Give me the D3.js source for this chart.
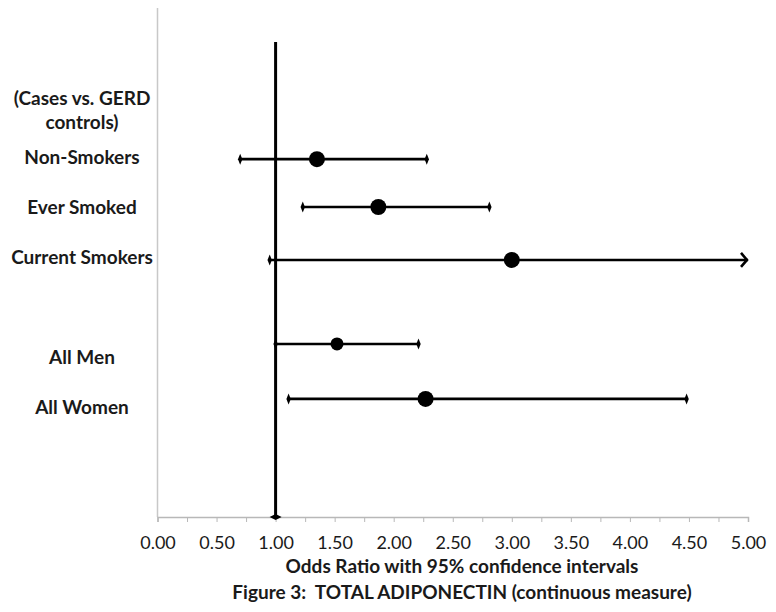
<!DOCTYPE html>
<html>
<head>
<meta charset="utf-8">
<script src="https://cdn.jsdelivr.net/npm/d3@7"></script>
<style>
  body { margin: 0; background: #fff; }
  text { font-family: Lato, "Open Sans", sans-serif; fill: #1a1a1a; white-space: pre; }
</style>
</head>
<body>
<div class="board"></div>
<script>
// groups, odds ratios and 95% CI
const groups = ["Non-Smokers", "Ever Smoked", "Current Smokers", "All Men", "All Women"]
const oddsRatio = [1.35, 1.87, 3.00, 1.52, 2.27]
const ciLow = [0.70, 1.23, 0.95, 1.00, 1.11]
const ciHigh = [2.28, 2.81, 5.00, 2.21, 4.48]
const rowY = [7.03, 6.09, 5.05, 3.40, 2.32]      // y position of each estimate
const labelY = [7.07, 6.09, 5.11, 3.14, 2.16]    // y position of each label
const pointR = [8, 8, 8, 6.5, 8]

const headerLines = ["(Cases vs. GERD", "controls)"]
const headerY = [8.23, 7.76]

const refLine = [{ x: 1, y: 0 }, { x: 1, y: 9.33 }]
const xMinorTicks = d3.range(0, 5.01, 0.25)

const width = 776, height = 612

const svg = d3.select(".board")
    .append("svg")
    .attr("width", width)
    .attr("height", height)

svg.append("rect").attr("width", width).attr("height", height).attr("fill", "white")

const x = d3.scaleLinear().domain([0, 5]).range([157.5, 748])
const y = d3.scaleLinear().domain([0, 10]).range([517, 8])

// left border of the plot area
svg.append("line")
    .attr("x1", x(0)).attr("x2", x(0))
    .attr("y1", y(10)).attr("y2", y(0))
    .attr("stroke", "#c8c8c8")
    .attr("stroke-width", 1.5)

// x axis
let xAxis = svg.append("g")
    .attr("transform", `translate(0, ${y(0)})`)
    .call(d3.axisBottom(x)
        .tickValues(xMinorTicks)
        .tickSize(5)
        .tickFormat(d => (Math.round(d * 100) % 50 == 0) ? d.toFixed(2) : ""))

xAxis.select(".domain").attr("stroke", "#b8b8b8").attr("stroke-width", 1.5)
xAxis.selectAll(".tick line").attr("stroke", "#b8b8b8").attr("stroke-width", 1)
xAxis.selectAll(".tick text")
    .attr("y", 0)
    .attr("dy", 0)
    .attr("transform", "translate(0, 32)")
    .style("font-family", "Lato, sans-serif")
    .style("font-size", "18px")
    .attr("fill", "#1a1a1a")

// reference line at OR = 1
svg.append("path")
    .datum(refLine)
    .attr("fill", "none")
    .attr("stroke", "black")
    .attr("stroke-width", 3)
    .attr("d", d3.line().x(d => x(d.x)).y(d => y(d.y)))

svg.append("path")
    .attr("fill", "black")
    .attr("d", () => {
        let cx = x(refLine[0].x), cy = y(refLine[0].y)
        return `M${cx - 6},${cy} L${cx},${cy - 3} L${cx + 6},${cy} L${cx},${cy + 3} Z`
    })

// confidence interval bars
let rows = groups.map((g, i) => ({
    group: g, or: oddsRatio[i], lo: ciLow[i], hi: ciHigh[i], y: rowY[i], r: pointR[i]
}))

let bars = svg.append("g")

bars.selectAll("line")
    .data(rows)
    .enter()
    .append("line")
    .attr("x1", d => x(d.lo))
    .attr("x2", d => x(Math.min(d.hi, 5)))
    .attr("y1", d => y(d.y))
    .attr("y2", d => y(d.y))
    .attr("stroke", "black")
    .attr("stroke-width", 2.6)

// small lozenge end caps
function lozenge(cx, cy) {
    return `M${cx - 2.2},${cy} L${cx},${cy - 5.5} L${cx + 2.2},${cy} L${cx},${cy + 5.5} Z`
}

bars.selectAll(".capLow")
    .data(rows)
    .enter()
    .append("path")
    .classed("capLow", true)
    .attr("fill", "black")
    .attr("d", d => lozenge(x(d.lo), y(d.y)))

bars.selectAll(".capHigh")
    .data(rows.filter(d => d.hi < 5))
    .enter()
    .append("path")
    .classed("capHigh", true)
    .attr("fill", "black")
    .attr("d", d => lozenge(x(d.hi), y(d.y)))

// open arrow where the interval runs off the axis
bars.selectAll(".arrow")
    .data(rows.filter(d => d.hi >= 5))
    .enter()
    .append("path")
    .classed("arrow", true)
    .attr("fill", "none")
    .attr("stroke", "black")
    .attr("stroke-width", 2.6)
    .attr("d", d => {
        let cx = x(5) - 1, cy = y(d.y)
        return `M${cx - 6},${cy - 7} L${cx},${cy} L${cx - 6},${cy + 7}`
    })

// point estimates
bars.selectAll("circle")
    .data(rows)
    .enter()
    .append("circle")
    .attr("cx", d => x(d.or))
    .attr("cy", d => y(d.y))
    .attr("r", d => d.r)
    .attr("fill", "black")

// category labels
let labels = svg.append("g")
    .attr("font-weight", "bold")
    .attr("font-size", "19px")
    .attr("text-anchor", "middle")

labels.selectAll(".header")
    .data(headerLines)
    .enter()
    .append("text")
    .classed("header", true)
    .attr("x", 82)
    .attr("y", (d, i) => y(headerY[i]))
    .attr("dy", "0.35em")
    .text(d => d)

labels.selectAll(".group")
    .data(groups)
    .enter()
    .append("text")
    .classed("group", true)
    .attr("x", 82)
    .attr("y", (d, i) => y(labelY[i]))
    .attr("dy", "0.35em")
    .text(d => d)

// titles
svg.append("text")
    .attr("x", 462)
    .attr("y", 573)
    .attr("text-anchor", "middle")
    .attr("font-weight", "bold")
    .attr("font-size", "19px")
    .text("Odds Ratio with 95% confidence intervals")

svg.append("text")
    .attr("x", 462)
    .attr("y", 599)
    .attr("text-anchor", "middle")
    .attr("font-weight", "bold")
    .attr("font-size", "19px")
    .text("Figure 3:  TOTAL ADIPONECTIN (continuous measure)")
</script>
</body>
</html>
